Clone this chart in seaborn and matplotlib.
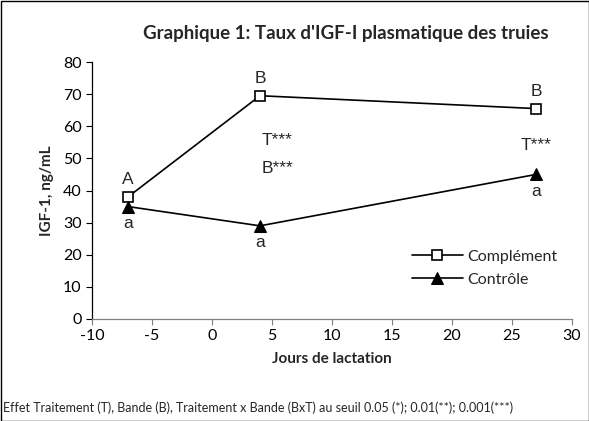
import matplotlib
matplotlib.use("Agg")
import matplotlib.pyplot as plt
import seaborn as sns
import pandas as pd

jours = [-7, 4, 27]
complement = [38, 69.5, 65.5]
controle = [35, 29, 45]
lettres_comp = ["A", "B", "B"]
lettres_ctrl = ["a", "a", "a"]
xticks = list(range(-10, 31, 5))
yticks = list(range(0, 81, 10))

sns.set_style("white")
plt.rcParams['font.family'] = ['Lato', 'DejaVu Sans']
plt.rcParams['axes.unicode_minus'] = False

fig = plt.figure(figsize=(5.89, 4.21), dpi=100)
ax = fig.add_axes([92/589, 1-319/421, (572-92)/589, (319-62)/421])

df1 = pd.DataFrame({"jour": jours, "val": complement})
df2 = pd.DataFrame({"jour": jours, "val": controle})
sns.lineplot(data=df1, x="jour", y="val", ax=ax, color="black", lw=1.2,
             marker="s", markersize=7, markerfacecolor="white",
             markeredgecolor="black", markeredgewidth=1.2, label="Complément")
sns.lineplot(data=df2, x="jour", y="val", ax=ax, color="black", lw=1.2,
             marker="^", markersize=9, markerfacecolor="black",
             markeredgecolor="black", label="Contrôle")

afont = ['Liberation Sans', 'DejaVu Sans']
for x, y, t in zip(jours, complement, lettres_comp):
    ax.text(x, y + 3.0, t, ha="center", va="bottom", fontsize=12.5, family=afont)
for x, y, t in zip(jours, controle, lettres_ctrl):
    ax.text(x, y - 3.0, t, ha="center", va="top", fontsize=12.5, family=afont)
ax.text(4.1, 55.5, "T***", ha="left", va="center", fontsize=12.5, family=afont)
ax.text(4.1, 47, "B***", ha="left", va="center", fontsize=12.5, family=afont)
ax.text(27, 54, "T***", ha="center", va="center", fontsize=12.5, family=afont)

ax.set_xlim(-10, 30)
ax.set_ylim(0, 80)
ax.set_xticks(xticks)
ax.set_xticklabels([str(v) for v in xticks])
ax.set_yticks(yticks)
ax.tick_params(axis="both", labelsize=11.5, direction="out", length=4,
               width=0.8, bottom=True, left=True, labelcolor="black")
ax.tick_params(axis="x", color="#808080")
ax.tick_params(axis="y", color="black")
for s in ["top", "right"]:
    ax.spines[s].set_visible(False)
ax.spines["left"].set_color("black")
ax.spines["left"].set_linewidth(0.9)
ax.spines["bottom"].set_color("#808080")
ax.spines["bottom"].set_linewidth(0.9)
ax.set_xlabel("Jours de lactation", fontsize=11, fontweight="bold", labelpad=6)
ax.set_ylabel("IGF-1, ng/mL", fontsize=11, fontweight="bold", labelpad=6)

leg = ax.legend(loc="lower right", bbox_to_anchor=(1.0, 0.07), frameon=False,
                fontsize=11.5, handlelength=3.2, handletextpad=0.3, labelspacing=0.55)

fig.text(346/589, 1-33/421, "Graphique 1: Taux d'IGF-I plasmatique des truies",
         ha="center", va="center", fontsize=13.5, fontweight="bold")
fig.text(3/589, 1-408/421,
         "Effet Traitement (T), Bande (B), Traitement x Bande (BxT) au seuil 0.05 (*); 0.01(**); 0.001(***)",
         ha="left", va="center", fontsize=9)

fig.patches.append(plt.Rectangle((0.5/589, 0.5/421), 1-1/589, 1-1/421,
                                 transform=fig.transFigure, fill=False,
                                 edgecolor="black", lw=1))
fig.savefig("out.png", dpi=100)
